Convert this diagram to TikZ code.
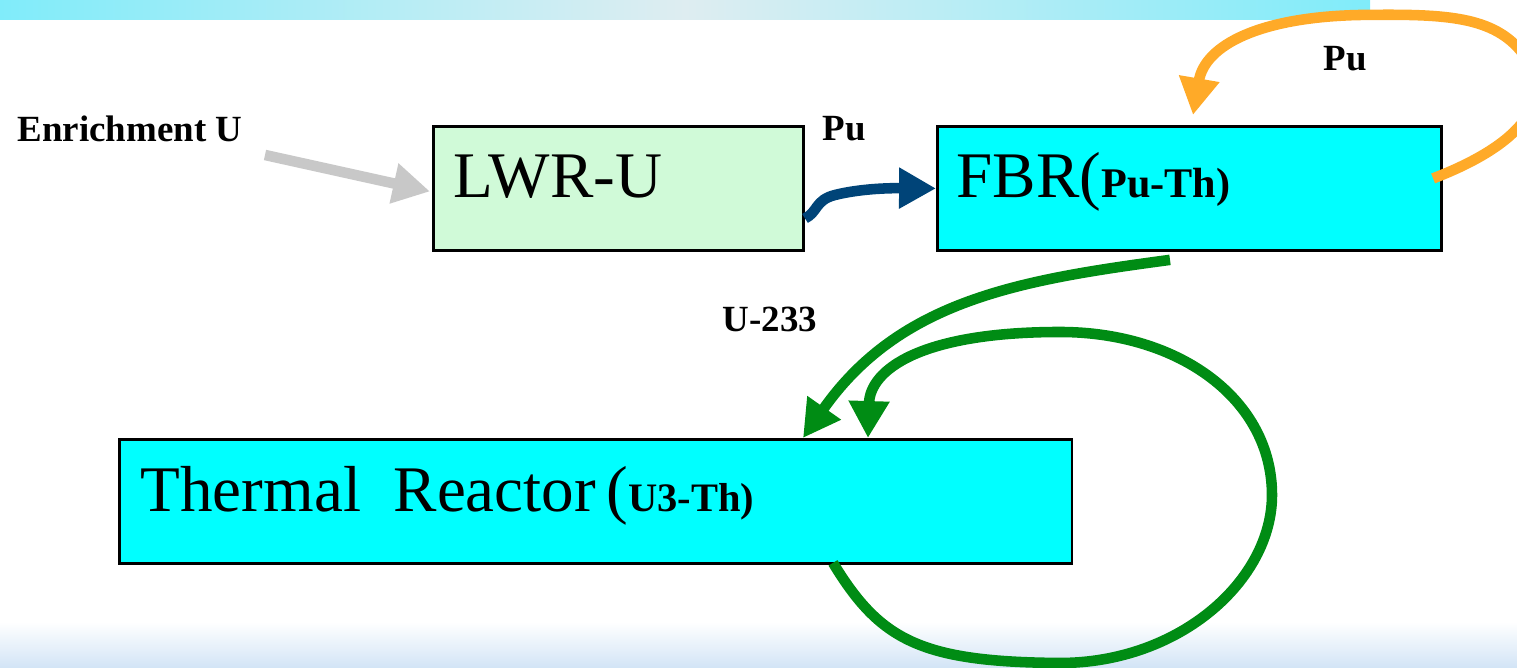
\documentclass[tikz,border=0pt]{standalone}
\usepackage{fontspec}
\setmainfont{Liberation Serif}
\usetikzlibrary{arrows.meta,calc}
\definecolor{bandcyan}{RGB}{128,236,250}
\definecolor{bandmid}{RGB}{222,237,241}
\definecolor{bandblue}{RGB}{210,228,246}
\definecolor{lwrgreen}{RGB}{208,250,216}
\definecolor{fbrcyan}{RGB}{0,255,255}
\definecolor{publue}{RGB}{0,68,120}
\definecolor{puorange}{RGB}{255,170,40}
\definecolor{ugreen}{RGB}{0,140,20}
\definecolor{feedgray}{RGB}{200,200,200}

\begin{document}
\begin{tikzpicture}[x=.01cm,y=-.01cm,
  reactor/.style={draw=black,line width=.8pt,inner sep=0pt,anchor=north west,minimum height=1.24cm},
  boxtext/.style={font=\fontsize{18.5}{20}\selectfont,anchor=base west,inner sep=0pt},
  tag/.style={font=\fontsize{10.5}{12}\selectfont\bfseries,anchor=base west,inner sep=0pt},
  flow/.style={line width=3pt,-{Triangle[length=10.5pt,width=11pt]}}]

\path[use as bounding box] (0,0) rectangle (1517,668);
\clip (0,0) rectangle (1517,668);
% backdrop bands
\shade[left color=bandcyan,right color=bandcyan,middle color=bandmid] (0,0) rectangle (1370,20);
\shade[top color=white,bottom color=bandblue] (0,622) rectangle (1517,668);

% reactors
\node[reactor,fill=lwrgreen,minimum width=3.70cm] (lwr) at (432,125) {};
\node[reactor,fill=fbrcyan,minimum width=5.04cm] (fbr) at (936,125) {};
\node[reactor,fill=fbrcyan,minimum width=9.52cm] (thermal) at (118,438) {};
\node[boxtext] (lwrname) at (453,198) {LWR-U};
\node[boxtext] (fbrname) at (956,198) {FBR({\fontsize{12}{14}\selectfont\bfseries Pu-Th)}};
\node[boxtext] (thermalname) at (140,512) {Thermal\ \ Reactor\,({\fontsize{11.5}{14}\selectfont\bfseries U3-Th)}};

% labels
\node[tag] (enrich) at (17,142) {Enrichment U};
\node[tag] (pulwr) at (822,141) {Pu};
\node[tag] (pufbr) at (1323,71) {Pu};
\node[tag] (u233) at (722,332) {U-233};

% flows
\coordinate (feed) at (265,155);
\draw[flow,feedgray] (feed) -- ($(lwr.west)+(-2,3)$);
\draw[flow,publue] ($(lwr.east)+(0,30)$) .. controls (818,212) and (815,200) .. (835,195)
  .. controls (855,190) and (880,188) .. (fbr.west);
\draw[flow,puorange] ($(fbr.east)+(-10,-10)$) .. controls (1520,145) and (1560,100) .. (1520,50)
  .. controls (1490,15) and (1440,14) .. (1360,15)
  .. controls (1260,17) and (1205,45) .. ($(fbr.north west)+(257,-10)$);
\draw[flow,ugreen] ($(fbr.south west)+(234,8)$) .. controls (1020,280) and (900,300)
  .. ($(thermal.north west)+(685,0)$);
\draw[flow,ugreen] ($(thermal.south west)+(715,-2)$) .. controls (880,640) and (920,662) .. (1060,663)
  .. controls (1180,663) and (1272,580) .. (1272,495)
  .. controls (1272,400) and (1180,332) .. (1060,332)
  .. controls (920,332) and (870,370) .. ($(thermal.north west)+(750,0)$);

\end{tikzpicture}
\end{document}
